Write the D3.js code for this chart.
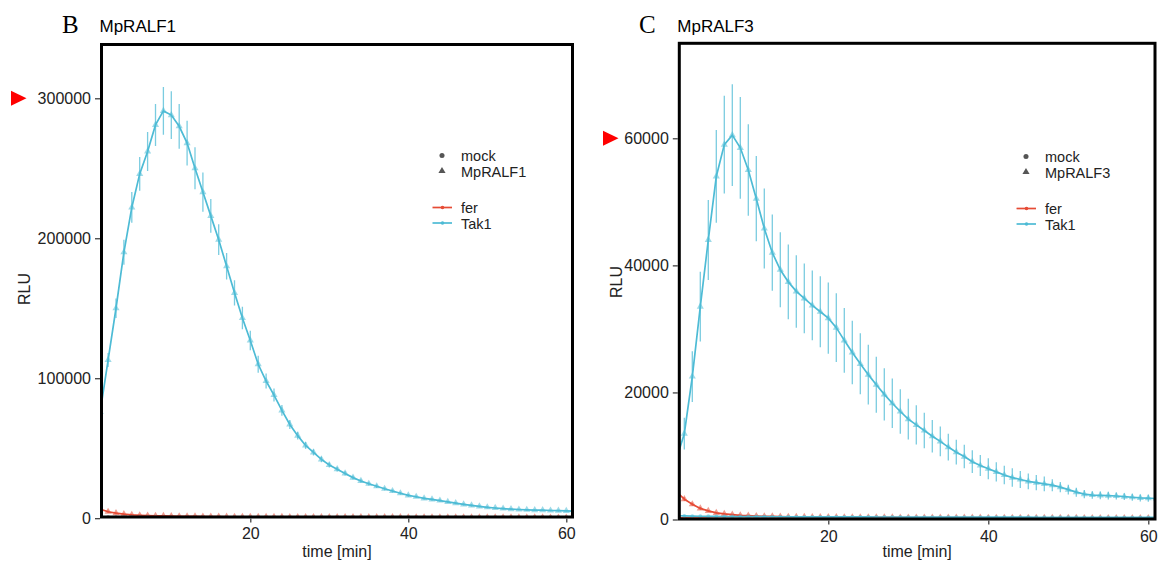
<!DOCTYPE html>
<html>
<head>
<meta charset="utf-8">
<script src="https://cdn.jsdelivr.net/npm/d3@7"></script>
<style>
  body { margin: 0; background: #fff; }
</style>
</head>
<body>
<svg id="chart" width="1158" height="564" font-family="Arial, 'Liberation Sans', sans-serif"></svg>
<script>
// time points (min)
const minutes = [1,2,3,4,5,6,7,8,9,10,11,12,13,14,15,16,17,18,19,20,21,22,23,24,25,26,27,28,29,30,
  31,32,33,34,35,36,37,38,39,40,41,42,43,44,45,46,47,48,49,50,51,52,53,54,55,56,57,58,59,60,61];

// panel B - MpRALF1
const tak1Ralf1 = [76000,113000,150000,190000,222000,246000,262000,281000,291000,288000,
  280000,268000,250000,233000,216000,199000,180000,161000,143000,127000,
  110000,98000,88000,77000,67000,59000,52000,47000,42000,38000,
  35000,32000,29000,26600,24600,22800,21000,19400,17800,16300,
  15300,14200,13400,12600,11700,10800,9900,9100,8400,7800,
  7300,6900,6500,6200,6000,5800,5700,5500,5400,5200,5100];
const tak1Ralf1Err = [3000,5000,7000,9000,11000,12000,14000,15000,17000,17000,
  16000,16000,15000,14000,12000,11000,9500,9000,8000,7000,
  6000,5300,4700,3800,3200,2800,2500,2200,2000,1800,
  1600,1500,1400,1300,1200,1200,1100,1100,1000,1000,
  900,900,900,900,800,800,800,800,700,700,
  700,700,700,600,600,600,600,600,600,600,600];
const ferRalf1 = [6500,4600,3600,2900,2400,2100,1900,1700,1600,1500,
  1400,1300,1250,1200,1150,1100,1050,1000,980,960,
  940,920,900,880,860,840,820,800,790,780,
  770,760,750,740,730,720,710,700,690,680,
  670,660,650,640,630,620,610,600,590,580,
  570,560,550,540,530,520,510,500,500,500,500];
const ferRalf1Err = [1200,900,700,600,500,450,400,380,360,340,
  320,300,300,280,280,260,260,250,250,240,
  240,230,230,220,220,210,210,200,200,200,
  200,190,190,190,180,180,180,170,170,170,
  160,160,160,150,150,150,150,140,140,140,
  140,130,130,130,130,120,120,120,120,120,120];
const ferMockB = [900,700,600,560,520,500,480,470,460,450,
  440,430,430,420,420,410,410,400,400,400,
  390,390,390,380,380,380,380,370,370,370,
  370,360,360,360,360,350,350,350,350,350,
  340,340,340,340,340,330,330,330,330,330,
  320,320,320,320,320,310,310,310,310,310,300];
const tak1MockB = [800,750,700,680,660,650,640,630,620,610,
  600,600,590,590,580,580,570,570,560,560,
  560,550,550,550,540,540,540,530,530,530,
  530,520,520,520,520,510,510,510,510,500,
  500,500,500,500,490,490,490,490,490,480,
  480,480,480,480,470,470,470,470,470,460,460];

// panel C - MpRALF3
const tak1Ralf3 = [9500,13500,22500,33500,44000,54000,59000,60500,58500,55000,
  50500,45800,42000,39300,37400,35900,34800,33700,32700,31700,
  30200,28200,26300,24500,22800,21200,19700,18300,17000,15800,
  14900,14000,13100,12300,11400,10600,9900,9100,8500,8000,
  7500,7000,6600,6300,6000,5800,5600,5400,5100,4700,
  4300,4000,3850,3800,3750,3700,3600,3500,3400,3350,3300];
const tak1Ralf3Err = [1500,2500,4000,5500,6300,7300,7700,8000,8000,7200,
  6700,6300,6000,5900,5900,5700,5500,5500,5600,5600,
  5400,5100,5000,4800,4700,4400,4100,3900,3500,3200,
  3100,2800,2550,2350,2100,1950,1850,1800,1650,1650,
  1500,1450,1450,1350,1250,1200,1150,950,800,750,
  700,650,600,600,600,550,550,550,550,550,550];
const ferRalf3 = [4400,3200,2400,1750,1350,1050,880,760,660,600,
  550,510,480,450,430,410,400,390,380,370,
  360,350,345,340,335,330,325,320,315,310,
  305,300,300,295,290,290,285,280,280,275,
  270,270,265,260,260,255,250,250,245,240,
  240,235,230,230,225,220,220,215,210,210,205];
const ferRalf3Err = [400,300,250,200,150,120,100,90,80,80,
  70,70,60,60,60,60,50,50,50,50,
  50,50,50,50,50,50,50,50,50,50,
  50,50,50,50,50,50,50,50,50,50,
  50,50,50,50,50,50,50,50,50,50,
  50,50,50,50,50,50,50,50,50,50,50];
const ferMockC = [300,260,240,220,210,200,200,190,190,180,
  180,180,170,170,170,160,160,160,160,150,
  150,150,150,150,140,140,140,140,140,140,
  130,130,130,130,130,130,130,120,120,120,
  120,120,120,120,120,110,110,110,110,110,
  110,110,110,110,100,100,100,100,100,100,100];
const tak1MockC = [600,560,530,510,500,480,470,460,450,450,
  440,440,430,430,430,420,420,420,410,410,
  410,400,400,400,400,390,390,390,390,380,
  380,380,380,380,370,370,370,370,370,360,
  360,360,360,360,360,350,350,350,350,350,
  350,340,340,340,340,340,340,330,330,330,330];

const yTicksB = [0, 100000, 200000, 300000];
const yTicksC = [0, 20000, 40000, 60000];
const xTicks = [20, 40, 60];
const genotypes = ["fer", "Tak1"];
const colors = { fer: "#E64B35", Tak1: "#4DBBD5" };

const svg = d3.select("#chart");

const drawPanel = (p) => {
  const g = svg.append("g");
  const x = d3.scaleLinear().domain([1, 61]).range(p.xRange);
  const y = d3.scaleLinear().domain(p.yDomain).range(p.yRange);

  g.append("clipPath").attr("id", "clip" + p.letter)
    .append("rect")
    .attr("x", p.box[0]).attr("y", p.box[1])
    .attr("width", p.box[2] - p.box[0]).attr("height", p.box[3] - p.box[1]);

  const plot = g.append("g").attr("clip-path", "url(#clip" + p.letter + ")");

  const line = d3.line()
    .x((d, i) => x(minutes[i]))
    .y(d => y(d));

  p.series.forEach(s => {
    const col = colors[s.geno];
    if (s.err) {
      plot.append("g").selectAll("line")
        .data(s.values)
        .enter().append("line")
        .attr("x1", (d, i) => x(minutes[i]))
        .attr("x2", (d, i) => x(minutes[i]))
        .attr("y1", (d, i) => y(d - s.err[i]))
        .attr("y2", (d, i) => y(d + s.err[i]))
        .attr("stroke", col)
        .attr("stroke-opacity", 0.75)
        .attr("stroke-width", 1.3);
    }
    plot.append("path")
      .datum(s.values)
      .attr("d", line)
      .attr("fill", "none")
      .attr("stroke", col)
      .attr("stroke-width", 1.7);

    const sym = d3.symbol()
      .type(s.shape == "tri" ? d3.symbolTriangle : d3.symbolCircle)
      .size(s.shape == "tri" ? 22 : 12);
    plot.append("g").selectAll("path")
      .data(s.values)
      .enter().append("path")
      .attr("d", sym)
      .attr("transform", (d, i) => "translate(" + x(minutes[i]) + "," + y(d) + ")")
      .attr("fill", col)
      .attr("fill-opacity", 0.55);
  });

  // panel border
  g.append("rect")
    .attr("x", p.box[0]).attr("y", p.box[1])
    .attr("width", p.box[2] - p.box[0]).attr("height", p.box[3] - p.box[1])
    .attr("fill", "none")
    .attr("stroke", "#000")
    .attr("stroke-width", 3);

  const yAxis = g.append("g")
    .attr("transform", "translate(" + (p.box[0] - 1.5) + ",0)")
    .call(d3.axisLeft(y).tickValues(p.yTicks).tickSize(5).tickPadding(4).tickFormat(d3.format("d")));
  const xAxis = g.append("g")
    .attr("transform", "translate(0," + (p.box[3] + 1.5) + ")")
    .call(d3.axisBottom(x).tickValues(xTicks).tickSize(4).tickPadding(p.xPad));
  [yAxis, xAxis].forEach(a => {
    a.attr("font-family", null);
    a.select(".domain").remove();
    a.selectAll(".tick line").attr("stroke", "#333").attr("stroke-width", 1.2);
    a.selectAll("text").attr("font-size", 16).attr("fill", "#222");
  });

  // labels
  g.append("text")
    .text(p.letter)
    .attr("x", p.letterX).attr("y", 33)
    .attr("font-size", 25)
    .attr("font-family", "'Times New Roman', 'Liberation Serif', serif")
    .attr("fill", "#000");
  g.append("text")
    .text(p.title)
    .attr("x", p.box[0] - 2).attr("y", 32)
    .attr("font-size", 17)
    .attr("fill", "#000");
  g.append("text")
    .text("RLU")
    .attr("transform", "translate(" + p.yLabel[0] + "," + p.yLabel[1] + ") rotate(-90)")
    .attr("text-anchor", "middle")
    .attr("font-size", 16)
    .attr("fill", "#222");
  g.append("text")
    .text("time [min]")
    .attr("x", (p.box[0] + p.box[2]) / 2).attr("y", 557)
    .attr("text-anchor", "middle")
    .attr("font-size", 16)
    .attr("fill", "#222");

  // red arrow marking the top tick
  const ay = y(p.yTicks[p.yTicks.length - 1]);
  g.append("path")
    .attr("d", "M" + p.arrowX + "," + (ay - 7.5) + "L" + p.arrowX + "," + (ay + 7.5) + "L" + (p.arrowX + 15.5) + "," + ay + "Z")
    .attr("fill", "#FF0000");

  // legend
  const lg = g.append("g").attr("transform", "translate(" + p.legend[0] + "," + p.legend[1] + ")");
  const shapes = [["mock", d3.symbolCircle, 20], [p.title, d3.symbolTriangle, 22]];
  shapes.forEach((s, i) => {
    lg.append("path")
      .attr("d", d3.symbol().type(s[1]).size(s[2]))
      .attr("transform", "translate(0," + (i * 15.5) + ")")
      .attr("fill", "#555");
    lg.append("text")
      .text(s[0])
      .attr("x", 19).attr("y", i * 15.5 + 5.5)
      .attr("font-size", 14.5)
      .attr("fill", "#222");
  });
  genotypes.forEach((gname, i) => {
    const yy = 52 + i * 15.5;
    lg.append("line")
      .attr("x1", -9.5).attr("x2", 10).attr("y1", yy).attr("y2", yy)
      .attr("stroke", colors[gname]).attr("stroke-width", 1.7);
    lg.append("circle")
      .attr("cx", 0.5).attr("cy", yy).attr("r", 1.8)
      .attr("fill", colors[gname]);
    lg.append("text")
      .text(gname)
      .attr("x", 19).attr("y", yy + 5.5)
      .attr("font-size", 14.5)
      .attr("fill", "#222");
  });
};

drawPanel({
  letter: "B", title: "MpRALF1", letterX: 62, arrowX: 11,
  box: [101.5, 44.5, 572.5, 517],
  xRange: [100.2, 574.2], yDomain: [0, 300000], yRange: [518.2, 98.3],
  yTicks: yTicksB, xPad: 5.5,
  yLabel: [30, 289], legend: [442, 155.5],
  series: [
    { geno: "fer", shape: "circle", values: ferMockB },
    { geno: "fer", shape: "tri", values: ferRalf1, err: ferRalf1Err },
    { geno: "Tak1", shape: "circle", values: tak1MockB },
    { geno: "Tak1", shape: "tri", values: tak1Ralf1, err: tak1Ralf1Err }
  ]
});

drawPanel({
  letter: "C", title: "MpRALF3", letterX: 639, arrowX: 603,
  box: [679.3, 43.3, 1155, 519],
  xRange: [676.3, 1156.3], yDomain: [0, 60000], yRange: [519.5, 138.3],
  yTicks: yTicksC, xPad: 6.5,
  yLabel: [622, 282], legend: [1026, 156.5],
  series: [
    { geno: "fer", shape: "circle", values: ferMockC },
    { geno: "fer", shape: "tri", values: ferRalf3, err: ferRalf3Err },
    { geno: "Tak1", shape: "circle", values: tak1MockC },
    { geno: "Tak1", shape: "tri", values: tak1Ralf3, err: tak1Ralf3Err }
  ]
});
</script>
</body>
</html>
